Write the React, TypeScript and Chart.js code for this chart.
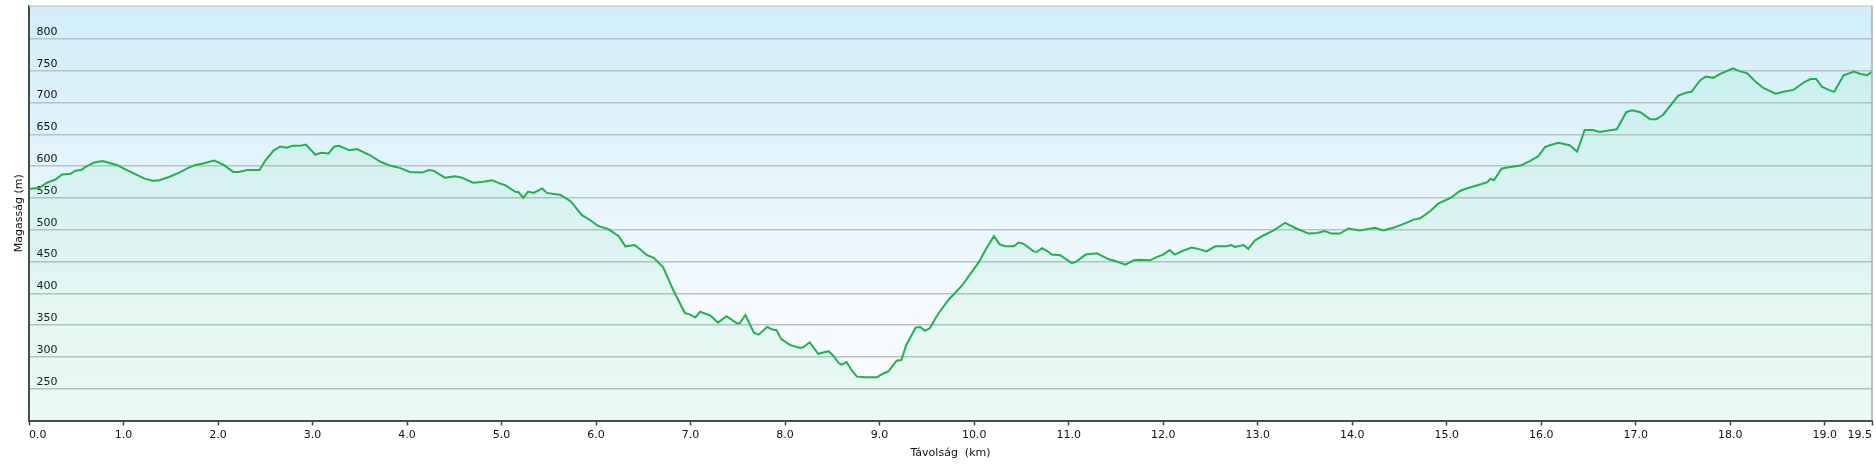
import React, { useEffect, useRef } from 'react';
import { Chart, registerables } from 'chart.js';

Chart.register(...registerables);

const distanceKm = [
  0, 0.11, 0.19, 0.28, 0.35, 0.44, 0.49, 0.55, 0.6, 0.69, 0.78, 0.85, 0.93, 1.02, 1.13, 1.23, 1.31, 1.38,
  1.48, 1.59, 1.68, 1.76, 1.83, 1.96, 2.06, 2.16, 2.22, 2.31, 2.44, 2.5, 2.59, 2.66, 2.73, 2.79, 2.86, 2.93,
  3.03, 3.09, 3.17, 3.23, 3.28, 3.39, 3.47, 3.6, 3.72, 3.82, 3.93, 4.03, 4.16, 4.23, 4.28, 4.4, 4.51, 4.58,
  4.7, 4.79, 4.9, 4.98, 5.04, 5.14, 5.18, 5.23, 5.28, 5.34, 5.43, 5.48, 5.57, 5.62, 5.73, 5.85, 5.94, 6.02,
  6.13, 6.24, 6.31, 6.41, 6.54, 6.61, 6.71, 6.82, 6.94, 6.99, 7.05, 7.1, 7.21, 7.29, 7.38, 7.49, 7.52, 7.58,
  7.67, 7.72, 7.81, 7.87, 7.91, 7.96, 8.05, 8.16, 8.19, 8.26, 8.35, 8.46, 8.51, 8.57, 8.6, 8.65, 8.71, 8.76,
  8.85, 8.97, 9.04, 9.09, 9.18, 9.23, 9.28, 9.38, 9.43, 9.48, 9.53, 9.62, 9.73, 9.87, 10.05, 10.13, 10.21,
  10.27, 10.33, 10.42, 10.47, 10.52, 10.63, 10.66, 10.72, 10.77, 10.82, 10.91, 11.03, 11.07, 11.18, 11.3,
  11.42, 11.51, 11.6, 11.69, 11.76, 11.86, 11.93, 12.0, 12.07, 12.12, 12.21, 12.3, 12.37, 12.46, 12.55,
  12.67, 12.72, 12.76, 12.85, 12.9, 12.97, 13.06, 13.17, 13.29, 13.41, 13.54, 13.63, 13.71, 13.78, 13.87,
  13.96, 14.08, 14.24, 14.33, 14.45, 14.56, 14.65, 14.72, 14.83, 14.91, 15.04, 15.14, 15.21, 15.37, 15.43,
  15.46, 15.5, 15.58, 15.64, 15.78, 15.88, 15.97, 16.04, 16.09, 16.18, 16.3, 16.38, 16.46, 16.55, 16.62,
  16.71, 16.8, 16.9, 16.96, 17.05, 17.15, 17.22, 17.29, 17.45, 17.54, 17.59, 17.68, 17.74, 17.82, 17.89,
  18.03, 18.09, 18.18, 18.26, 18.35, 18.48, 18.56, 18.67, 18.78, 18.85, 18.91, 18.97, 19.04, 19.1, 19.2,
  19.31, 19.38, 19.45, 19.5,
];

const elevationM = [
  564, 566, 574, 579, 587, 588, 593, 594, 599, 606, 608, 605, 602, 595, 587, 580, 577, 578,
  583, 590, 597, 602, 604, 609, 602, 591, 591, 594, 594, 609, 625, 631, 629, 632, 632, 634,
  618, 621, 620, 631, 632, 625, 627, 618, 607, 601, 597, 591, 590, 594, 593, 582, 584, 582,
  574, 575, 578, 573, 570, 560, 559, 550, 560, 558, 565, 558, 556, 555, 545, 523, 515, 506,
  501, 490, 474, 476, 460, 456, 441, 404, 369, 367, 362, 371, 365, 354, 364, 353, 353, 366,
  338, 335, 347, 343, 342, 328, 319, 314, 315, 323, 305, 309, 302, 290, 288, 292, 278, 269,
  268, 268, 274, 277, 294, 295, 318, 346, 347, 341, 345, 368, 390, 412, 449, 471, 490,
  477, 474, 474, 480, 478, 466, 465, 471, 467, 461, 460, 448, 449, 461, 463,
  454, 450, 445, 452, 453, 452, 457, 461, 468, 461, 467, 472, 470, 466, 474,
  474, 476, 473, 476, 470, 483, 491, 499, 511, 502, 494, 495, 498, 494, 494,
  502, 499, 503, 499, 504, 510, 516, 518, 530, 541, 550, 561, 565, 572, 575,
  580, 578, 596, 598, 601, 608, 616, 630, 633, 637, 633, 623, 657, 657, 654,
  656, 658, 685, 688, 685, 674, 674, 681, 711, 716, 717, 735, 741, 739, 745,
  754, 750, 746, 734, 723, 714, 717, 720, 732, 737, 737, 725, 720, 717, 743,
  749, 745, 743, 749,
];

const xTickValues = [0, 1, 2, 3, 4, 5, 6, 7, 8, 9, 10, 11, 12, 13, 14, 15, 16, 17, 18, 19, 19.5];
const yTickValues = [250, 300, 350, 400, 450, 500, 550, 600, 650, 700, 750, 800];

const yAxisTitle = 'Magasság (m)';
const xAxisTitle = 'Távolság  (km)';

const FONT = 'DejaVu Sans';

const framePlugin = {
  id: 'frameAndBg',
  beforeDraw(chart: any) {
    const { ctx, chartArea: a } = chart;
    const g = ctx.createLinearGradient(0, a.top, 0, a.bottom);
    g.addColorStop(0, 'rgb(208,238,249)');
    g.addColorStop(0.75, 'rgb(245,250,254)');
    g.addColorStop(1, 'rgb(250,253,255)');
    ctx.save();
    ctx.fillStyle = g;
    ctx.fillRect(a.left, a.top, a.right - a.left, a.bottom - a.top);
    ctx.restore();
  },
  afterDraw(chart: any) {
    const { ctx, chartArea: a } = chart;
    ctx.save();
    ctx.lineWidth = 1.5;
    ctx.strokeStyle = '#c9cfd2';
    ctx.beginPath();
    ctx.moveTo(a.left, a.top);
    ctx.lineTo(a.right, a.top);
    ctx.stroke();
    ctx.strokeStyle = '#a9b0b3';
    ctx.beginPath();
    ctx.moveTo(a.right, a.top);
    ctx.lineTo(a.right, a.bottom);
    ctx.stroke();
    ctx.restore();
  },
};

export default function App() {
  const canvasRef = useRef<HTMLCanvasElement | null>(null);

  useEffect(() => {
    const canvas = canvasRef.current;
    if (!canvas) return;
    const points = distanceKm.map((d, i) => ({ x: d, y: elevationM[i] }));
    const chart = new Chart(canvas, {
      type: 'line',
      data: {
        datasets: [
          {
            data: points,
            borderColor: '#22b14c',
            borderWidth: 2,
            backgroundColor: 'rgba(50,215,120,0.08)',
            fill: 'start',
            pointRadius: 0,
            tension: 0,
          },
        ],
      },
      options: {
        responsive: false,
        animation: false,
        events: [],
        layout: { padding: { top: 6, right: 4, left: 0, bottom: 0 } },
        plugins: {
          legend: { display: false },
          tooltip: { enabled: false },
        },
        scales: {
          x: {
            type: 'linear',
            min: 0,
            max: 19.5,
            afterBuildTicks: (s: any) => {
              s.ticks = xTickValues.map((v) => ({ value: v }));
            },
            afterFit: (s: any) => {
              s.height = 46.5;
              s.paddingLeft = 0;
              s.paddingRight = 0;
            },
            grid: {
              drawOnChartArea: false,
              drawTicks: true,
              tickLength: 5,
              tickColor: '#444',
              tickWidth: 1.5,
            },
            border: { display: true, color: '#4a4a4a', width: 2 },
            ticks: {
              autoSkip: false,
              maxRotation: 0,
              align: 'inner',
              padding: 3,
              color: '#111',
              font: { family: FONT, size: 11 },
              callback: (v: any) => Number(v).toFixed(1),
            },
            title: {
              display: true,
              text: xAxisTitle,
              color: '#111',
              font: { family: FONT, size: 11 },
              padding: { top: 2, bottom: 7 },
            },
          },
          y: {
            type: 'linear',
            min: 200,
            max: 852,
            afterBuildTicks: (s: any) => {
              s.ticks = yTickValues.map((v) => ({ value: v }));
            },
            afterFit: (s: any) => {
              s.width = 29;
              s.paddingTop = 0;
              s.paddingBottom = 0;
            },
            grid: {
              drawOnChartArea: true,
              drawTicks: false,
              color: '#b8c2c7',
              lineWidth: 1.5,
            },
            border: { display: true, color: '#4a4a4a', width: 2 },
            ticks: {
              mirror: true,
              padding: 7.5,
              labelOffset: -7,
              color: '#111',
              font: { family: FONT, size: 11 },
              callback: (v: any) => String(v),
            },
            title: {
              display: true,
              text: yAxisTitle,
              color: '#111',
              font: { family: FONT, size: 11 },
              padding: { top: 13, bottom: 0 },
            },
          },
        },
      },
      plugins: [framePlugin],
    });
    return () => chart.destroy();
  }, []);

  return (
    <div style={{ position: 'absolute', left: 0, top: 0, width: 1876, height: 467, background: '#fff' }}>
      <canvas ref={canvasRef} width={1876} height={467} style={{ display: 'block' }} />
    </div>
  );
}
